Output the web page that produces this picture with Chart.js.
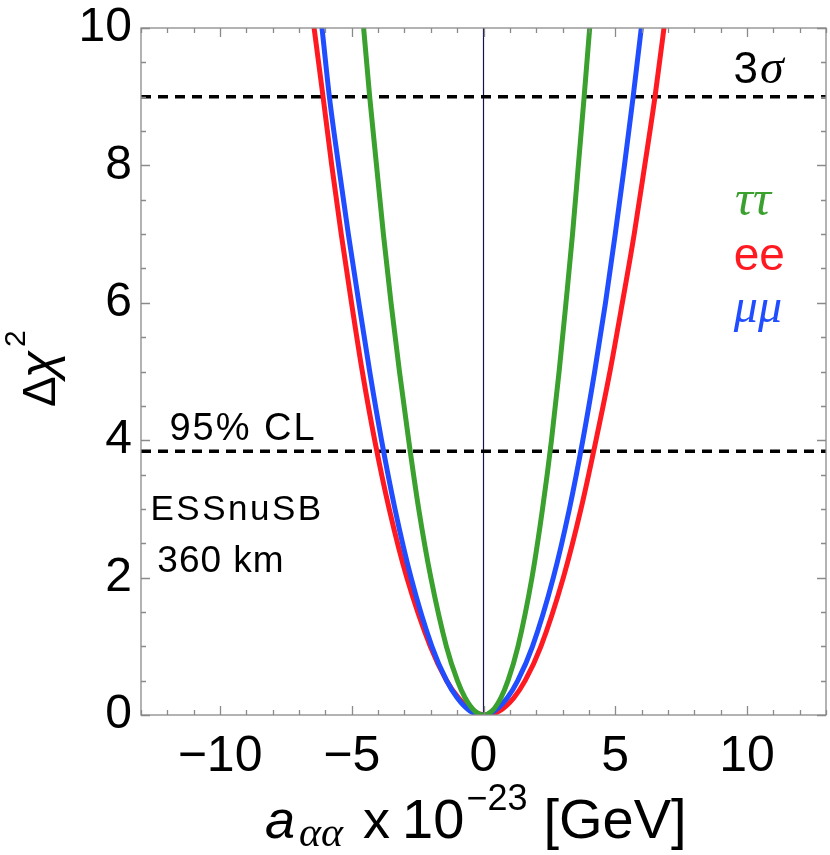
<!DOCTYPE html>
<html>
<head>
<meta charset="utf-8">
<script src="https://cdn.jsdelivr.net/npm/chart.js@4.4.1/dist/chart.umd.min.js"></script>
<style>
  html, body { margin: 0; padding: 0; background: #fff; }
</style>
</head>
<body>
<canvas id="chart" width="830" height="855"></canvas>
<script>
const CHI_LEVELS = [0.06, 0.25, 0.5, 1, 2, 3, 4, 5, 6, 7, 8, 9, 10, 10.4];

const EE_MIN = 0.1;
const EE_LEFT = [-0.41, -0.95, -1.40, -2.02, -2.91, -3.58, -4.13, -4.60, -5.01, -5.40, -5.76, -6.09, -6.43, -6.56];
const EE_RIGHT = [0.61, 1.15, 1.58, 2.18, 3.03, 3.70, 4.27, 4.80, 5.27, 5.72, 6.12, 6.51, 6.85, 6.98];

const MUMU_MIN = -0.05;
const MUMU_LEFT = [-0.52, -1.00, -1.40, -1.96, -2.75, -3.36, -3.87, -4.32, -4.73, -5.13, -5.50, -5.85, -6.13, -6.25];
const MUMU_RIGHT = [0.42, 0.905, 1.30, 1.86, 2.65, 3.26, 3.77, 4.22, 4.63, 5.00, 5.35, 5.68, 5.99, 6.11];

const TAUTAU_MIN = 0.0;
const TAUTAU_LEFT = [-0.34, -0.70, -0.99, -1.41, -2.00, -2.46, -2.84, -3.19, -3.51, -3.80, -4.06, -4.32, -4.55, -4.63];
const TAUTAU_RIGHT = [0.33, 0.66, 0.93, 1.31, 1.84, 2.24, 2.58, 2.87, 3.13, 3.38, 3.60, 3.82, 4.03, 4.11];

const CL_LINES = [9, 3.84];
const X_RANGE = [-13, 13];
const Y_RANGE = [0, 10];
const X_TICKS = [-10, -5, 0, 5, 10];
const Y_TICKS = [0, 2, 4, 6, 8, 10];

const SANS = '"Liberation Sans", Arial, sans-serif';
const SERIF = '"Liberation Serif", "Times New Roman", serif';
const GREEN = '#3aa02e', RED = '#ff1a22', BLUE = '#1f4dff';

function curve(minX, left, right) {
    const pts = [];
    for (let i = left.length - 1; i >= 0; i--) pts.push({ x: left[i], y: CHI_LEVELS[i] });
    pts.push({ x: minX, y: 0 });
    for (let i = 0; i < right.length; i++) pts.push({ x: right[i], y: CHI_LEVELS[i] });
    return pts;
}

function curveSet(data, color) {
    return {
        data, borderColor: color, borderWidth: 5, pointRadius: 0,
        showLine: true, cubicInterpolationMode: 'monotone', clip: 0
    };
}

function hline(v) {
    return {
        data: [{ x: X_RANGE[0], y: v }, { x: X_RANGE[1], y: v }],
        borderColor: '#000', borderWidth: 3.5, borderDash: [10, 7],
        pointRadius: 0, showLine: true, clip: 0
    };
}

// frame with inward ticks on all four sides
const framePlugin = {
    id: 'frame',
    afterDatasetsDraw(chart) {
        const { ctx, chartArea: a, scales: { x, y } } = chart;
        ctx.save();
        ctx.strokeStyle = '#8a8a8a';
        ctx.lineWidth = 1.3;
        ctx.strokeRect(a.left, a.top, a.right - a.left, a.bottom - a.top);
        ctx.beginPath();
        for (let v = Math.ceil(x.min); v <= x.max; v++) {
            const px = Math.round(x.getPixelForValue(v)) + 0.5;
            const len = v % 5 === 0 ? 9 : 5;
            ctx.moveTo(px, a.bottom); ctx.lineTo(px, a.bottom - len);
            ctx.moveTo(px, a.top); ctx.lineTo(px, a.top + len);
        }
        for (let v = y.min; v <= y.max + 1e-9; v += 0.5) {
            const py = Math.round(y.getPixelForValue(v)) + 0.5;
            const len = Math.abs(v % 2) < 1e-9 ? 9 : 5;
            ctx.moveTo(a.left, py); ctx.lineTo(a.left + len, py);
            ctx.moveTo(a.right, py); ctx.lineTo(a.right - len, py);
        }
        ctx.stroke();
        ctx.restore();
    }
};

// draws text pieces left to right; each may carry a gap before it and a vertical shift
function drawPieces(ctx, pieces, x0, y0) {
    let cx = x0;
    pieces.forEach(p => {
        cx += p.gap || 0;
        ctx.font = p.font;
        ctx.fillStyle = p.color || '#000';
        ctx.fillText(p.t, cx, y0 + (p.dy || 0));
        cx += ctx.measureText(p.t).width;
    });
}

const textPlugin = {
    id: 'texts',
    afterDraw(chart) {
        const { ctx, scales: { x, y } } = chart;
        ctx.save();
        ctx.textBaseline = 'alphabetic';
        ctx.textAlign = 'left';
        const at = (vx, vy) => [x.getPixelForValue(vx), y.getPixelForValue(vy)];

        let [px, py] = at(9.49, 9.2);
        drawPieces(ctx, [{ t: '3', font: '44px ' + SANS }, { t: 'σ', font: 'italic 48px ' + SERIF, gap: 2 }], px, py);

        [px, py] = at(9.55, 7.28);
        drawPieces(ctx, [{ t: 'ττ', font: 'italic 50px ' + SERIF, color: GREEN }], px, py);
        [px, py] = at(9.5, 6.48);
        drawPieces(ctx, [{ t: 'ee', font: '46px ' + SANS, color: RED }], px, py);
        [px, py] = at(9.5, 5.72);
        drawPieces(ctx, [{ t: 'μμ', font: 'italic 48px ' + SERIF, color: BLUE }], px, py);

        ctx.letterSpacing = '2px';
        [px, py] = at(-11.92, 4.0);
        drawPieces(ctx, [{ t: '95% CL', font: '38px ' + SANS }], px, py);
        ctx.letterSpacing = '2.5px';
        [px, py] = at(-12.64, 2.84);
        drawPieces(ctx, [{ t: 'ESSnuSB', font: '35px ' + SANS }], px, py);
        ctx.letterSpacing = '1px';
        [px, py] = at(-12.38, 2.08);
        drawPieces(ctx, [{ t: '360 km', font: '37px ' + SANS }], px, py);
        ctx.letterSpacing = '0px';

        // x axis title
        drawPieces(ctx, [
            { t: 'a', font: 'italic 54px ' + SANS },
            { t: 'αα', font: 'italic 42px ' + SERIF, dy: 8, gap: 4 },
            { t: 'x', font: '54px ' + SANS, gap: 20 },
            { t: '10', font: '56px ' + SANS, gap: 12 },
            { t: '−23', font: '36px ' + SANS, dy: -28, gap: 2 },
            { t: '[GeV]', font: '56px ' + SANS, gap: 16 }
        ], 265, 838);

        // y axis title
        ctx.translate(55, 407);
        ctx.rotate(-Math.PI / 2);
        drawPieces(ctx, [
            { t: 'Δ', font: '46px ' + SANS },
            { t: 'χ', font: 'italic 50px ' + SANS, gap: -2 },
            { t: '2', font: '30px ' + SANS, dy: -30, gap: 4 }
        ], 0, 0);
        ctx.restore();
    }
};

new Chart(document.getElementById('chart'), {
    type: 'scatter',
    data: {
        datasets: [
            curveSet(curve(TAUTAU_MIN, TAUTAU_LEFT, TAUTAU_RIGHT), GREEN),
            curveSet(curve(MUMU_MIN, MUMU_LEFT, MUMU_RIGHT), BLUE),
            curveSet(curve(EE_MIN, EE_LEFT, EE_RIGHT), RED),
            ...CL_LINES.map(hline),
            {
                data: [{ x: 0, y: Y_RANGE[0] }, { x: 0, y: Y_RANGE[1] }],
                borderColor: '#14144a', borderWidth: 1.2, pointRadius: 0, showLine: true
            }
        ]
    },
    options: {
        responsive: false,
        animation: false,
        layout: { padding: { top: 28, right: 4, left: 0, bottom: 0 } },
        plugins: { legend: { display: false }, tooltip: { enabled: false } },
        scales: {
            x: {
                type: 'linear', min: X_RANGE[0], max: X_RANGE[1],
                afterBuildTicks: s => { s.ticks = X_TICKS.map(v => ({ value: v })); },
                afterFit: s => { s.height = 140; s.paddingLeft = 0; s.paddingRight = 0; },
                grid: { display: false, drawTicks: false },
                border: { display: false },
                ticks: {
                    padding: 12, color: '#000', maxRotation: 0,
                    font: { family: SANS, size: 50 },
                    callback: v => (v < 0 ? '−' + Math.abs(v) : '' + v)
                }
            },
            y: {
                type: 'linear', min: Y_RANGE[0], max: Y_RANGE[1],
                afterBuildTicks: s => { s.ticks = Y_TICKS.map(v => ({ value: v })); },
                afterFit: s => { s.width = 141; s.paddingTop = 0; s.paddingBottom = 0; },
                grid: { display: false, drawTicks: false },
                border: { display: false },
                ticks: {
                    padding: 9, color: '#000',
                    font: { family: SANS, size: 48 }
                }
            }
        }
    },
    plugins: [framePlugin, textPlugin]
});
</script>
</body>
</html>
